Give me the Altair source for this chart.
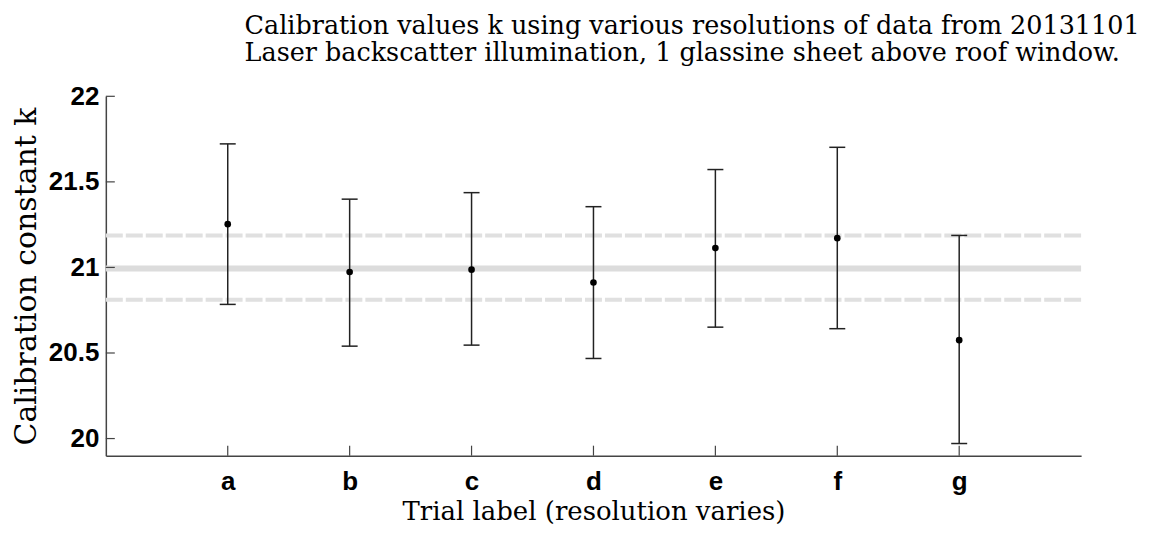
import altair as alt
import pandas as pd

# ---- data ----
labels = ["a", "b", "c", "d", "e", "f", "g"]
k_mean = [21.253, 20.973, 20.987, 20.912, 21.113, 21.171, 20.575]
k_upper = [21.722, 21.399, 21.437, 21.355, 21.572, 21.702, 21.187]
k_lower = [20.784, 20.540, 20.546, 20.468, 20.651, 20.642, 19.971]
overall_mean = [20.994]
overall_band = [20.811, 21.187]
y_ticks = [20, 20.5, 21, 21.5, 22]
y_domain = [19.9, 22]

title_lines = [
    "Calibration values k using various resolutions of data from 20131101",
    "Laser backscatter illumination, 1 glassine sheet above roof window.",
]

W, H = 977, 360
SERIF = "DejaVu Serif"
SANS = "Liberation Sans"

df = pd.DataFrame({"trial": labels, "k": k_mean, "hi": k_upper, "lo": k_lower})
df_mean = pd.DataFrame({"v": overall_mean})
df_band = pd.DataFrame({"v": overall_band})
df_xt = pd.DataFrame({"trial": labels})
df_yt = pd.DataFrame({"v": y_ticks})

xscale = alt.Scale(type="point", domain=labels, padding=1)
yscale = alt.Scale(domain=y_domain, nice=False, zero=False)

xaxis = alt.Axis(
    title="Trial label (resolution varies)", labelAngle=0, ticks=False, tickSize=0,
    grid=False, domainColor="#444444", domainWidth=1.5,
    labelFont=SANS, labelFontWeight="bold", labelFontSize=26, labelColor="black",
    labelPadding=13, titleFont=SERIF, titleFontSize=26, titleFontWeight="normal",
    titleColor="black", titlePadding=4,
)
yaxis = alt.Axis(
    title="Calibration constant k", values=y_ticks, format=".1~f", ticks=False,
    tickSize=0, grid=False, domainColor="#444444", domainWidth=1.5,
    labelFont=SANS, labelFontWeight="bold", labelFontSize=26, labelColor="black",
    labelPadding=7, titleFont=SERIF, titleFontSize=30, titleFontWeight="normal",
    titleColor="black", titlePadding=7,
)

X = alt.X("trial:O", scale=xscale, axis=xaxis, sort=labels)

mean_line = alt.Chart(df_mean).mark_rule(color="#dcdcdc", strokeWidth=6).encode(
    y=alt.Y("v:Q", scale=yscale, axis=yaxis), x=alt.value(0), x2=alt.value(W)
)
band_lines = alt.Chart(df_band).mark_rule(
    color="#e0e0e0", strokeWidth=4, strokeDash=[17, 3]
).encode(y=alt.Y("v:Q", scale=yscale, axis=yaxis), x=alt.value(0), x2=alt.value(W))

bars = alt.Chart(df).mark_rule(color="#222222", strokeWidth=1.5).encode(
    x=X, y=alt.Y("lo:Q", scale=yscale, axis=yaxis), y2="hi:Q"
)
cap_hi = alt.Chart(df).mark_rule(color="#222222", strokeWidth=1.5, xOffset=-8, x2Offset=8).encode(
    x=X, x2="trial:O", y=alt.Y("hi:Q", scale=yscale, axis=yaxis)
)
cap_lo = alt.Chart(df).mark_rule(color="#222222", strokeWidth=1.5, xOffset=-8, x2Offset=8).encode(
    x=X, x2="trial:O", y=alt.Y("lo:Q", scale=yscale, axis=yaxis)
)
points = alt.Chart(df).mark_circle(size=44, color="black", opacity=1).encode(
    x=X, y=alt.Y("k:Q", scale=yscale, axis=yaxis)
)
x_ticks = alt.Chart(df_xt).mark_rule(color="#444444", strokeWidth=1.2).encode(
    x=X, y=alt.value(H), y2=alt.value(H - 10)
)
y_tick_marks = alt.Chart(df_yt).mark_rule(color="#444444", strokeWidth=1.2).encode(
    y=alt.Y("v:Q", scale=yscale, axis=yaxis), x=alt.value(0), x2=alt.value(9)
)

chart = alt.layer(
    mean_line, band_lines, bars, cap_hi, cap_lo, points, x_ticks, y_tick_marks
).properties(
    width=W, height=H,
    autosize=alt.AutoSizeParams(type="none"),
    padding={"left": 98, "top": 88, "right": 60, "bottom": 76},
    title=alt.TitleParams(
        text=title_lines, anchor="start", frame="group", dx=139, offset=17,
        font=SERIF, fontSize=25.5, fontWeight="normal", lineHeight=27, color="black",
    ),
).configure(background="white").configure_view(strokeWidth=0, stroke=None)

chart.save("out.html", embed_options={"renderer": "svg", "actions": False})
